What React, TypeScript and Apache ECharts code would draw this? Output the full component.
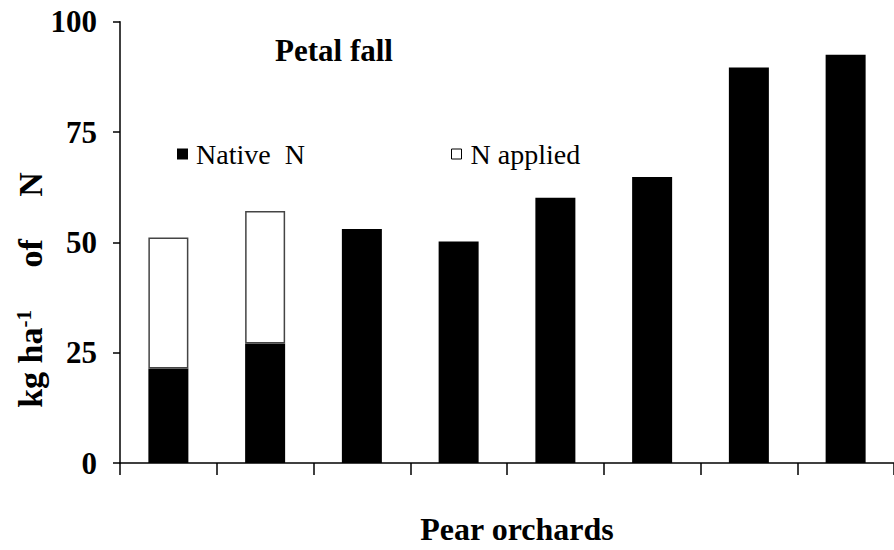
import React, { useEffect, useRef } from "react";
import * as echarts from "echarts";

const categories = ["1", "2", "3", "4", "5", "6", "7", "8"];
const nativeN = [21.4, 27.1, 53.0, 50.2, 60.1, 64.8, 89.6, 92.5];
const nApplied: (number | null)[] = [29.7, 30.0, null, null, null, null, null, null];
const yTicks = [0, 25, 50, 75, 100];

const SERIF = "Liberation Serif";

export default function App() {
  const ref = useRef<HTMLDivElement>(null);
  useEffect(() => {
    document.body.style.margin = "0";
    const chart = echarts.init(ref.current!, null, { renderer: "svg" });
    chart.setOption({
      animation: false,
      backgroundColor: "#ffffff",
      graphic: [
        {
          type: "text",
          left: 275,
          top: 35,
          style: {
            text: "Petal fall",
            fontFamily: SERIF,
            fontWeight: "bold",
            fontSize: 31,
            fill: "#000",
          },
        },
        {
          type: "text",
          x: 30,
          y: 290,
          rotation: Math.PI / 2,
          style: {
            text: "{a|kg ha}{s|-1}{a|     of     N}",
            align: "center",
            verticalAlign: "middle",
            fontFamily: SERIF,
            fontWeight: "bold",
            fontSize: 34,
            fill: "#000",
            rich: {
              a: { fontFamily: SERIF, fontWeight: "bold", fontSize: 34, fill: "#000" },
              s: { fontFamily: SERIF, fontWeight: "bold", fontSize: 21, fill: "#000", verticalAlign: "top" },
            },
          },
        },
      ],
      legend: [
        {
          data: ["Native  N"],
          left: 172,
          top: 135,
          icon: "rect",
          itemWidth: 11,
          itemHeight: 11,
          itemGap: 0,
          itemStyle: { borderWidth: 0 },
          textStyle: { fontFamily: SERIF, fontSize: 28, color: "#000", padding: [0, 0, 0, 3] },
        },
        {
          data: ["N applied"],
          left: 446,
          top: 135,
          icon: "rect",
          itemWidth: 10,
          itemHeight: 10,
          itemStyle: { borderWidth: 1, borderColor: "#000" },
          textStyle: { fontFamily: SERIF, fontSize: 28, color: "#000", padding: [0, 0, 0, 4] },
        },
      ],
      grid: { left: 120, right: -6, top: 21.7, bottom: 63.3, containLabel: false },
      xAxis: {
        type: "category",
        data: categories,
        boundaryGap: true,
        name: "Pear orchards",
        nameLocation: "middle",
        nameGap: 50,
        nameTextStyle: {
          fontFamily: SERIF,
          fontWeight: "bold",
          fontSize: 32,
          color: "#000",
          padding: [0, 0, 0, 20],
        },
        axisLine: { lineStyle: { color: "#000", width: 1.5 } },
        axisTick: { show: true, length: 12, lineStyle: { color: "#000", width: 1.5 } },
        axisLabel: { show: false },
      },
      yAxis: {
        type: "value",
        min: yTicks[0],
        max: yTicks[yTicks.length - 1],
        interval: 25,
        axisLine: { show: true, lineStyle: { color: "#000", width: 1.5 } },
        axisTick: { show: true, length: 7, lineStyle: { color: "#000", width: 1.5 } },
        splitLine: { show: false },
        axisLabel: {
          margin: 23,
          fontFamily: SERIF,
          fontWeight: "bold",
          fontSize: 31,
          color: "#000",
        },
      },
      series: [
        {
          name: "Native  N",
          type: "bar",
          stack: "n",
          data: nativeN,
          barWidth: 40,
          itemStyle: { color: "#000" },
        },
        {
          name: "N applied",
          type: "bar",
          stack: "n",
          data: nApplied,
          barWidth: 40,
          itemStyle: { color: "#fff", borderColor: "#444", borderWidth: 1.5 },
        },
      ],
    });
    return () => chart.dispose();
  }, []);
  return <div ref={ref} style={{ width: 894, height: 550 }} />;
}
